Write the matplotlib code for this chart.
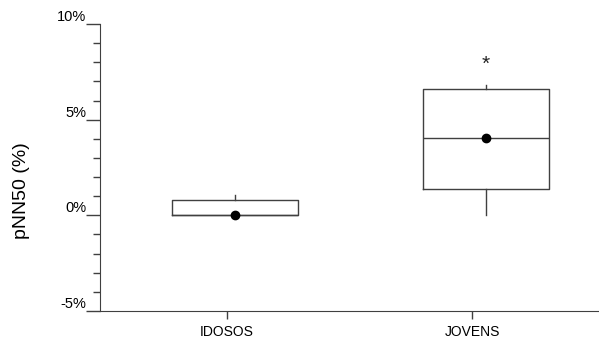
import matplotlib.pyplot as plt
import numpy as np

plt.rcParams['font.family'] = ['Liberation Sans', 'DejaVu Sans']

# box statistics (pNN50, %)
groups = ['IDOSOS', 'JOVENS']
q1 = [0.0, 1.38]
median = [0.0, 4.03]
q3 = [0.79, 6.58]
whislo = [0.0, 0.0]
whishi = [1.08, 6.79]
mean = [0.0, 4.03]

yticks = [-5, 0, 5, 10]
ytick_labels = ['-5%', '0%', '5%', '10%']

stats = []
for i in range(len(groups)):
    stats.append(dict(label=groups[i], q1=q1[i], med=median[i], q3=q3[i],
                      whislo=whislo[i], whishi=whishi[i], mean=mean[i], fliers=[]))

fig = plt.figure(figsize=(5.99, 3.38), dpi=100)
ax = fig.add_axes([100 / 599, 27 / 338, 499 / 599, 287 / 338])

lc = '#404040'
pos = [1, 2]
ax.bxp(stats, positions=pos, widths=0.5, showmeans=True, showcaps=False,
       showfliers=False, patch_artist=False,
       boxprops=dict(color=lc, linewidth=1),
       whiskerprops=dict(color=lc, linewidth=1),
       medianprops=dict(color=lc, linewidth=1),
       meanprops=dict(marker='o', markerfacecolor='black', markeredgecolor='black',
                      markersize=6))

# significance mark
ax.text(2, 7.9, '*', ha='center', va='center', fontsize=15, color='#222222')

ax.set_xlim(0.462, 2.45)
ax.set_ylim(-5, 10)

ax.spines['top'].set_visible(False)
ax.spines['right'].set_visible(False)
ax.spines['left'].set_color(lc)
ax.spines['bottom'].set_color(lc)

ax.set_yticks(yticks)
ax.set_yticklabels(ytick_labels)
ax.set_yticks(np.arange(-5, 11, 1), minor=True)
ax.tick_params(axis='y', which='major', length=10, width=1, color=lc, pad=0,
               labelsize=10.5)
ax.tick_params(axis='y', which='minor', length=5, width=1, color=lc)
for t in ax.get_yticklabels():
    t.set_verticalalignment('bottom')

# category ticks sit slightly left of the box centres in the original
ax.set_xticks([pos[0] - 0.032, pos[1] - 0.056])
ax.set_xticklabels(groups)
ax.tick_params(axis='x', length=6, width=1, color=lc, labelsize=10, pad=4)

ax.set_ylabel('pNN50 (%)', fontsize=14)
ax.yaxis.set_label_coords(-0.14, 0.42)

fig.savefig('out.png', dpi=100)
